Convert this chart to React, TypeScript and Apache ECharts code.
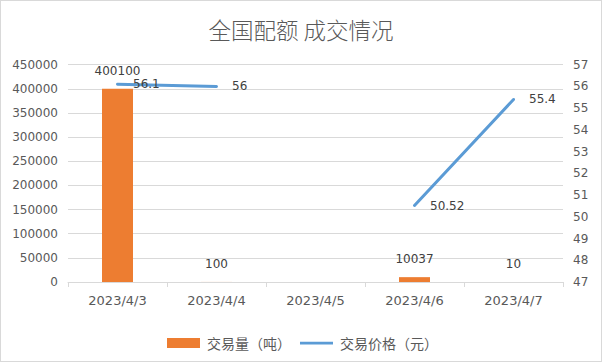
import React, { useEffect, useRef } from "react";
import * as echarts from "echarts";

const categories = ["2023/4/3", "2023/4/4", "2023/4/5", "2023/4/6", "2023/4/7"];
const volumes: (number | null)[] = [400100, 100, null, 10037, 10];
const prices: (number | null)[] = [56.1, 56, null, 50.52, 55.4];
const titleText = "全国配额 成交情况";
const volumeName = "交易量（吨）";
const priceName = "交易价格（元）";

export default function App() {
  const ref = useRef<HTMLDivElement>(null);
  useEffect(() => {
    document.body.style.margin = "0";
    const chart = echarts.init(ref.current!, null, { renderer: "svg" });
    const num = "'DejaVu Sans', 'Noto Sans CJK SC', sans-serif";
    const cjk = "'Noto Sans CJK SC', sans-serif";
    chart.setOption({
      animation: false,
      backgroundColor: "#ffffff",
      textStyle: { fontFamily: num },
      title: {
        text: titleText,
        left: "center",
        top: 13,
        textStyle: { fontFamily: cjk, fontSize: 22.5, fontWeight: 300, color: "#595959" },
      },
      legend: {
        left: 162,
        top: 331,
        itemWidth: 33,
        itemHeight: 10,
        itemGap: 9,
        textStyle: { fontFamily: cjk, fontSize: 14, color: "#595959", padding: [0, 0, 0, 2] },
        data: [
          { name: volumeName, icon: "rect" },
          { name: priceName, icon: "path://M0,0L36,0L36,3L0,3Z" },
        ],
      },
      grid: { left: 68, right: 39, top: 64.7, bottom: 80, containLabel: false },
      xAxis: {
        type: "category",
        data: categories,
        axisLine: { lineStyle: { color: "#d9d9d9" } },
        axisTick: { show: true, length: 5, lineStyle: { color: "#d9d9d9" } },
        axisLabel: { color: "#595959", fontSize: 13, margin: 12, fontFamily: num },
      },
      yAxis: [
        {
          type: "value",
          min: 0,
          max: 450000,
          interval: 50000,
          axisLine: { show: false },
          axisTick: { show: false },
          axisLabel: {
            color: "#595959",
            fontSize: 12,
            margin: 10,
            fontFamily: num,
            formatter: (v: number) => String(v),
          },
          splitLine: { lineStyle: { color: "#d9d9d9" } },
        },
        {
          type: "value",
          min: 47,
          max: 57,
          interval: 1,
          axisLine: { show: false },
          axisTick: { show: false },
          axisLabel: {
            color: "#595959",
            fontSize: 12,
            margin: 10,
            fontFamily: num,
            formatter: (v: number) => String(v),
          },
          splitLine: { show: false },
        },
      ],
      series: [
        {
          name: volumeName,
          type: "bar",
          data: volumes,
          barWidth: 31,
          itemStyle: { color: "#ed7d31" },
          label: {
            show: true,
            position: "top",
            distance: 12,
            color: "#404040",
            fontSize: 12,
            fontFamily: num,
          },
        },
        {
          name: priceName,
          type: "line",
          yAxisIndex: 1,
          data: prices,
          connectNulls: false,
          symbol: "circle",
          symbolSize: 1,
          showSymbol: true,
          itemStyle: { color: "#5b9bd5" },
          lineStyle: { color: "#5b9bd5", width: 3, cap: "round" },
          label: {
            show: true,
            position: "right",
            distance: 15,
            color: "#404040",
            fontSize: 12,
            fontFamily: num,
          },
        },
      ],
    });
    return () => chart.dispose();
  }, []);
  return (
    <div style={{ position: "fixed", left: 0, top: 0, width: 602, height: 362 }}>
      <div ref={ref} style={{ position: "absolute", left: 0, top: 0, width: 602, height: 362 }} />
      <div
        style={{
          position: "absolute",
          left: 0,
          top: 0,
          width: 602,
          height: 362,
          boxSizing: "border-box",
          border: "1px solid #d9d9d9",
          pointerEvents: "none",
        }}
      />
    </div>
  );
}
